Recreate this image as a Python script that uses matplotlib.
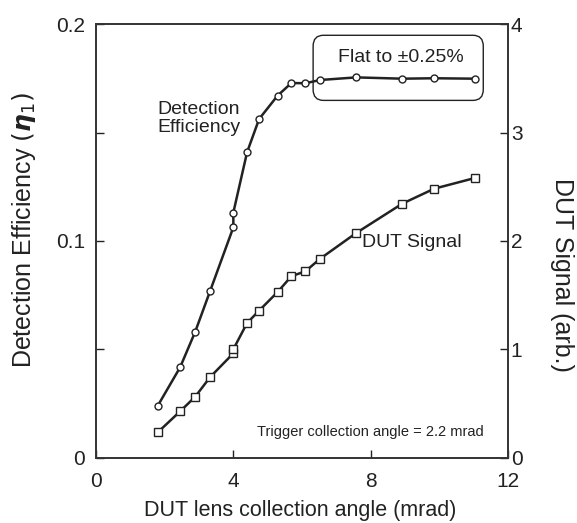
import matplotlib.pyplot as plt
from matplotlib.patches import FancyBboxPatch

plt.rcParams['font.family'] = ['Liberation Sans', 'DejaVu Sans']
plt.rcParams['mathtext.fontset'] = 'dejavusans'

# DUT lens collection angle (mrad)
angle = [1.80, 2.45, 2.89, 3.32, 4.00, 4.00, 4.40, 4.75, 5.29, 5.69,
         6.10, 6.53, 7.58, 8.92, 9.85, 11.04]
# detection efficiency (left axis)
efficiency = [0.0241, 0.0418, 0.0582, 0.0768, 0.1063, 0.1131, 0.1409, 0.1562,
              0.1670, 0.1728, 0.1727, 0.1742, 0.1754, 0.1748, 0.1750, 0.1748]
# DUT signal (right axis, arb.)
signal = [0.237, 0.430, 0.565, 0.744, 0.965, 1.002, 1.244, 1.358, 1.530,
          1.675, 1.721, 1.837, 2.074, 2.344, 2.482, 2.581]

xticks = [0, 4, 8, 12]
left_ticks = [0, 0.05, 0.1, 0.15, 0.2]
left_labels = ['0', '', '0.1', '', '0.2']
right_ticks = [0, 1, 2, 3, 4]

ink = '#222222'

fig = plt.figure(figsize=(5.77, 5.23), dpi=100)
ax = fig.add_axes([0.1664, 0.1243, 0.714, 0.8298])
ax2 = ax.twinx()

ax.plot(angle, efficiency, color=ink, lw=1.8, marker='o', ms=5,
        mfc='white', mec=ink, mew=1.0, zorder=3)
ax2.plot(angle, signal, color=ink, lw=1.8, marker='s', ms=6,
         mfc='white', mec=ink, mew=1.0, zorder=3)

ax.set_xlim(0, 12)
ax.set_ylim(0, 0.2)
ax2.set_ylim(0, 4)
ax.set_xticks(xticks)
ax.set_yticks(left_ticks)
ax.set_yticklabels(left_labels)
ax2.set_yticks(right_ticks)

ax.tick_params(axis='x', direction='in', length=6, width=1, labelsize=15, colors=ink, pad=10)
ax.tick_params(axis='y', direction='in', length=6, width=1, labelsize=15, colors=ink, pad=8)
ax2.tick_params(direction='in', length=6, width=1, labelsize=15, colors=ink, pad=2)
for a in (ax, ax2):
    for s in a.spines.values():
        s.set_color('#333333')
        s.set_linewidth(1.2)

ax.set_xlabel('DUT lens collection angle (mrad)', fontsize=15.5, color=ink, va='center')
ax.xaxis.set_label_coords(0.495, -0.122)
ax.set_ylabel(r'Detection Efficiency $(\boldsymbol{\eta}_1)$', fontsize=18, color=ink,
              va='center', ha='center')
ax.yaxis.set_label_coords(-0.175, 0.526)
ax2.set_ylabel('DUT Signal (arb.)', fontsize=18, color=ink, rotation=270,
               va='center', ha='center')
ax2.yaxis.set_label_coords(1.132, 0.422)

ax.text(1.78, 0.1565, 'Detection\nEfficiency', fontsize=14, color=ink,
        va='center', ha='left', linespacing=1.1)
ax2.text(7.75, 1.99, 'DUT Signal', fontsize=14, color=ink, va='center', ha='left')
ax.text(11.3, 0.0120, 'Trigger collection angle = 2.2 mrad', fontsize=10.5,
        color=ink, va='center', ha='right')

box = FancyBboxPatch((0.527, 0.824), 0.413, 0.150,
                     boxstyle='round,pad=0,rounding_size=0.025',
                     transform=ax.transAxes,
                     fc='none', ec=ink, lw=1.0, zorder=2)
ax.add_patch(box)
ax.text(0.740, 0.923, 'Flat to \u00b10.25%', fontsize=14, color=ink,
        va='center', ha='center', transform=ax.transAxes)

fig.savefig('out.png', dpi=100)
